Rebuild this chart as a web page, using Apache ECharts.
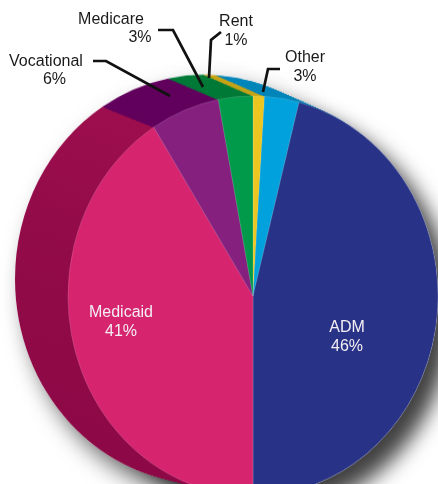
<!DOCTYPE html>
<html><head><meta charset="utf-8">
<script src="https://cdn.jsdelivr.net/npm/echarts@6/dist/echarts.min.js"></script>
<style>
html,body{margin:0;padding:0;background:#fff;overflow:hidden}
#wrap{position:relative;width:438px;height:484px;overflow:hidden}
#a{position:absolute;left:0;top:0;width:438px;height:484px;transform:scaleY(1.081);transform-origin:0 296px}
#b{position:absolute;left:0;top:0;width:438px;height:484px}
</style>
</head><body><div id="wrap"><div id="a"></div><div id="b"></div></div>
<script>
// ---- data ----
const categories = ['Rent', 'Other', 'ADM', 'Medicaid', 'Vocational', 'Medicare'];
const values = [1, 3, 46, 41, 6, 3];

// ---- styles ----
const faceColors = ['#EBC520', '#00A1DC', '#283387', '#D6246F', '#85207F', '#009A4A'];
const medicaidSide = new echarts.graphic.LinearGradient(0, 0, 0, 1, [
  { offset: 0, color: '#9D0E4D' }, { offset: 0.3, color: '#930B49' }, { offset: 1, color: '#8C0846' }
]);
const sideColors = ['#C6A416', '#0086BA', '#0086BA', medicaidSide, '#62005D', '#007A38'];

// geometry (chart A is stretched vertically to give an elliptical face)
const FACE = { cx: 253, cy: 296, r: 185 };
const BACK = { cx: 204, cy: 280.3, r: 189 };
const LAYERS = 34;

// label placement (annotation layout, screen pixels)
const LABEL_LAYOUT = {
  'ADM':        { x: 347, y: 337, inside: true },
  'Medicaid':   { x: 121, y: 322, inside: true },
  'Vocational': { x: 46,  y: 70.5, pad: 17, line: [[170, 96], [106, 61], [93, 61]] },
  'Medicare':   { x: 111, y: 28.5, pad: 58, line: [[203, 87], [173, 30], [158, 30]] },
  'Rent':       { x: 236, y: 31,  pad: 0, line: [[209, 78], [211, 40], [221, 32]] },
  'Other':      { x: 305, y: 67,  pad: 0, line: [[263, 92], [268, 69], [280, 69]] }
};

const FONT = '"Liberation Sans", Arial, sans-serif';

function makeData(colors) {
  return categories.map((name, i) => ({ name: name, value: values[i], itemStyle: { color: colors[i] } }));
}
function basePie(extra) {
  return Object.assign({
    type: 'pie', silent: true, animation: false,
    startAngle: 90, clockwise: true, avoidLabelOverlap: false,
    label: { show: false }, labelLine: { show: false },
    emphasis: { disabled: true }
  }, extra);
}

// ---------- chart A: pie graphics ----------
const white = categories.map(() => '#ffffff');
const seriesA = [];
seriesA.push(basePie({
  z: 1, center: [BACK.cx, BACK.cy], radius: BACK.r,
  itemStyle: { borderWidth: 0, shadowBlur: 22, shadowColor: 'rgba(0,0,0,0.6)', shadowOffsetX: 10, shadowOffsetY: 12 },
  data: makeData(white)
}));
seriesA.push(basePie({
  z: 2, center: [FACE.cx, FACE.cy], radius: FACE.r,
  itemStyle: { borderWidth: 0, shadowBlur: 20, shadowColor: 'rgba(0,0,0,0.75)', shadowOffsetX: 14, shadowOffsetY: 15 },
  data: makeData(white)
}));
for (let i = 0; i < LAYERS; i++) {
  const t = i / LAYERS;
  seriesA.push(basePie({
    z: 3 + i,
    center: [BACK.cx + (FACE.cx - BACK.cx) * t, BACK.cy + (FACE.cy - BACK.cy) * t],
    radius: BACK.r + (FACE.r - BACK.r) * t,
    itemStyle: { borderWidth: 0 },
    data: makeData(sideColors)
  }));
}
seriesA.push(basePie({
  z: 3 + LAYERS + 2, center: [FACE.cx, FACE.cy], radius: FACE.r,
  itemStyle: { borderWidth: 0.6, borderColor: 'rgba(255,255,255,0.25)' },
  data: makeData(faceColors)
}));
const chartA = echarts.init(document.getElementById('a'), null, { renderer: 'canvas' });
chartA.setOption({ backgroundColor: '#ffffff', animation: false, series: seriesA });

// ---------- chart B: labels ----------
const kStyle = { color: '#1a1a1a', fontFamily: FONT, fontSize: 16, lineHeight: 18.5, align: 'center' };
const labelSeries = basePie({
  center: [FACE.cx, FACE.cy], radius: FACE.r,
  itemStyle: { color: 'rgba(0,0,0,0)', borderWidth: 0 },
  label: {
    show: true, position: 'outside',
    fontFamily: FONT, fontSize: 16, lineHeight: 18.5,
    formatter: function (p) {
      const L = LABEL_LAYOUT[p.name];
      const pct = p.percent.toFixed(0) + '%';
      if (L.inside) return '{w|' + p.name + '}\n{w|' + pct + '}';
      return '{k|' + p.name + '}\n{k' + L.pad + '|' + pct + '}';
    },
    rich: {
      w: { color: '#F4EEF4', fontFamily: FONT, fontSize: 16, lineHeight: 19, align: 'center' },
      k: kStyle,
      k0: kStyle,
      k17: Object.assign({}, kStyle, { padding: [0, 0, 0, 17] }),
      k58: Object.assign({}, kStyle, { padding: [0, 0, 0, 58] })
    }
  },
  labelLine: { show: true, smooth: false, lineStyle: { color: '#111', width: 2.7 } },
  labelLayout: function (p) {
    const L = LABEL_LAYOUT[categories[p.dataIndex]];
    const o = { x: L.x, y: L.y, align: 'center', verticalAlign: 'middle' };
    if (L.line) o.labelLinePoints = L.line;
    return o;
  },
  data: categories.map((name, i) => {
    const inside = !!LABEL_LAYOUT[name].inside;
    return {
      name: name, value: values[i],
      label: { position: inside ? 'inside' : 'outside' },
      labelLine: { show: !inside }
    };
  })
});
const chartB = echarts.init(document.getElementById('b'), null, { renderer: 'canvas' });
chartB.setOption({ backgroundColor: 'transparent', animation: false, series: [labelSeries] });
</script>
</body></html>
